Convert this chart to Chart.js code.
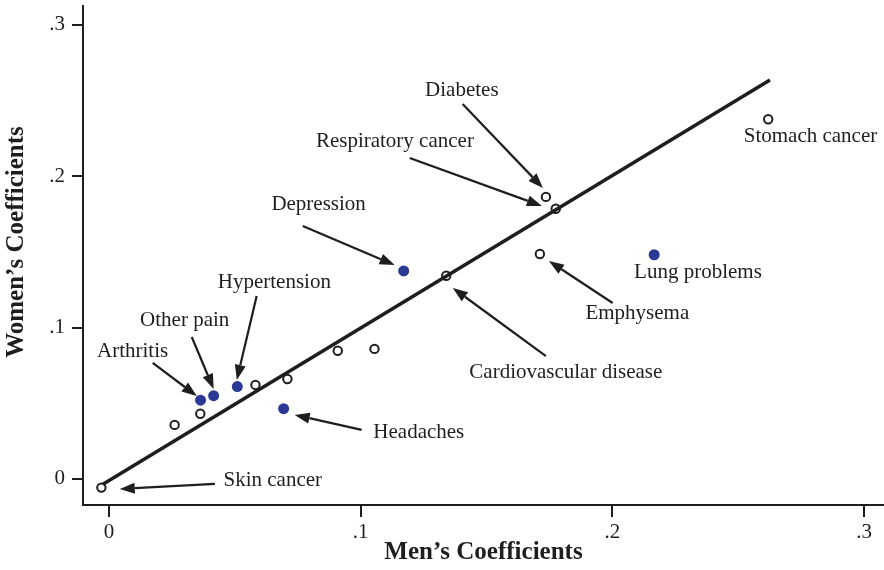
<!DOCTYPE html>
<html><head><meta charset="utf-8">
<script src="https://cdn.jsdelivr.net/npm/chart.js@4"></script>
<style>html,body{margin:0;padding:0;background:#fff;}#wrap{width:884px;height:570px;}</style>
</head><body><div id="wrap"><canvas id="c" width="884" height="570"></canvas></div>
<script>
// Hollow markers (men's coefficient, women's coefficient)
const hollowMen   = [-0.0030, 0.0261, 0.0363, 0.0582, 0.0709, 0.0909, 0.1055, 0.1340, 0.1712, 0.1736, 0.1775, 0.2619];
const hollowWomen = [-0.0057, 0.0357, 0.0431, 0.0621, 0.0660, 0.0847, 0.0859, 0.1342, 0.1486, 0.1863, 0.1785, 0.2376];
// Filled (blue) markers
const filledMen   = [0.0364, 0.0416, 0.0510, 0.0694, 0.1171, 0.2166];
const filledWomen = [0.0520, 0.0550, 0.0610, 0.0464, 0.1374, 0.1481];
// Fitted line end points
const fitMen   = [-0.0024, 0.2626];
const fitWomen = [-0.0035, 0.2635];
// Tick values
const xTicks = [0, 0.1, 0.2, 0.3];
const yTicks = [0, 0.1, 0.2, 0.3];
// Axis titles
const xTitle = 'Men’s Coefficients';
const yTitle = 'Women’s Coefficients';
// Labels with arrows (text, label position, arrow from -> to), in data units
const annotations = [
  {text:'Skin cancer',            at:[0.0651,-0.0013], from:[0.0421,-0.0033], to:[0.0043,-0.0066]},
  {text:'Headaches',              at:[0.1231, 0.0304], from:[0.1004, 0.0324], to:[0.0738, 0.0423]},
  {text:'Arthritis',              at:[0.0094, 0.0845], from:[0.0174, 0.0766], to:[0.0349, 0.0548]},
  {text:'Other pain',             at:[0.0301, 0.1044], from:[0.0329, 0.0938], to:[0.0416, 0.0594]},
  {text:'Hypertension',           at:[0.0657, 0.1301], from:[0.0587, 0.1209], to:[0.0508, 0.0654]},
  {text:'Depression',             at:[0.0833, 0.1816], from:[0.0770, 0.1671], to:[0.1135, 0.1413]},
  {text:'Respiratory cancer',     at:[0.1136, 0.2226], from:[0.1195, 0.2120], to:[0.1720, 0.1803]},
  {text:'Diabetes',               at:[0.1402, 0.2569], from:[0.1405, 0.2477], to:[0.1724, 0.1922]},
  {text:'Stomach cancer',         at:[0.2787, 0.2259]},
  {text:'Lung problems',          at:[0.2340, 0.1367]},
  {text:'Emphysema',              at:[0.2099, 0.1090], from:[0.2001, 0.1162], to:[0.1748, 0.1440]},
  {text:'Cardiovascular disease', at:[0.1815, 0.0700], from:[0.1736, 0.0812], to:[0.1366, 0.1262]}
];

const INK = '#1e1e1e';
const BLUE = 'rgb(44,56,150)';
const FONT = '"Liberation Serif", "DejaVu Serif", serif';

const zip = (xs, ys) => xs.map((x, i) => ({x, y: ys[i]}));

const annotationPlugin = {
  id: 'annots',
  afterDatasetsDraw(chart) {
    const {ctx, scales: {x, y}} = chart;
    ctx.save();
    ctx.fillStyle = INK; ctx.strokeStyle = INK;
    for (const a of annotations) {
      if (a.from) {
        const x1 = x.getPixelForValue(a.from[0]), y1 = y.getPixelForValue(a.from[1]);
        const x2 = x.getPixelForValue(a.to[0]),   y2 = y.getPixelForValue(a.to[1]);
        const ang = Math.atan2(y2 - y1, x2 - x1);
        const L = 15, W = 5.5;
        const bx = x2 - L * Math.cos(ang), by = y2 - L * Math.sin(ang);
        ctx.lineWidth = 2.2;
        ctx.beginPath(); ctx.moveTo(x1, y1); ctx.lineTo(bx, by); ctx.stroke();
        ctx.beginPath();
        ctx.moveTo(x2, y2);
        ctx.lineTo(bx + W * Math.sin(ang), by - W * Math.cos(ang));
        ctx.lineTo(bx - W * Math.sin(ang), by + W * Math.cos(ang));
        ctx.closePath(); ctx.fill();
      }
      ctx.font = '21px ' + FONT;
      ctx.textAlign = 'center'; ctx.textBaseline = 'middle';
      ctx.fillText(a.text, x.getPixelForValue(a.at[0]), y.getPixelForValue(a.at[1]));
    }
    // y-axis title
    ctx.font = 'bold 25px ' + FONT;
    ctx.translate(17, 242);
    ctx.rotate(-Math.PI / 2);
    ctx.textAlign = 'center'; ctx.textBaseline = 'middle';
    ctx.fillText(yTitle, 0, 0);
    ctx.restore();
  }
};

const fmt = v => v === 0 ? '0' : String(v).replace(/^0/, '');

new Chart(document.getElementById('c'), {
  type: 'scatter',
  data: {
    datasets: [
      {type: 'line', data: zip(fitMen, fitWomen), borderColor: INK, borderWidth: 3.6, pointRadius: 0, fill: false, order: 3},
      {data: zip(hollowMen, hollowWomen), pointRadius: 4.2, pointBorderWidth: 2, pointBorderColor: INK, pointBackgroundColor: 'rgba(255,255,255,0)', order: 2},
      {data: zip(filledMen, filledWomen), pointRadius: 5.5, pointBorderWidth: 0, pointBackgroundColor: BLUE, pointBorderColor: BLUE, order: 1}
    ]
  },
  options: {
    responsive: false, animation: false, devicePixelRatio: 1,
    layout: {autoPadding: false, padding: {top: 6, right: 0, left: 0, bottom: 0}},
    plugins: {legend: {display: false}, tooltip: {enabled: false}},
    scales: {
      x: {
        type: 'linear', min: -0.0103, max: 0.3079,
        afterBuildTicks: s => { s.ticks = xTicks.map(v => ({value: v})); },
        afterFit: s => { s.height = 65; s.paddingLeft = 0; s.paddingRight = 0; },
        grid: {drawOnChartArea: false, drawTicks: true, tickLength: 12, color: INK, lineWidth: 2},
        border: {display: true, color: INK, width: 2},
        ticks: {callback: fmt, color: INK, padding: 3, font: {family: FONT, size: 21}, maxRotation: 0},
        title: {display: true, text: xTitle, color: INK, font: {family: FONT, size: 25, weight: 'bold'}, padding: {top: 0, bottom: 2}}
      },
      y: {
        type: 'linear', min: -0.0172, max: 0.3124,
        afterBuildTicks: s => { s.ticks = yTicks.map(v => ({value: v})); },
        afterFit: s => { s.width = 83; s.paddingTop = 0; s.paddingBottom = 0; },
        grid: {drawOnChartArea: false, drawTicks: true, tickLength: 11, color: INK, lineWidth: 2},
        border: {display: true, color: INK, width: 2},
        ticks: {callback: fmt, color: INK, padding: 7, font: {family: FONT, size: 21}},
        title: {display: false}
      }
    }
  },
  plugins: [annotationPlugin]
});
</script></body></html>
